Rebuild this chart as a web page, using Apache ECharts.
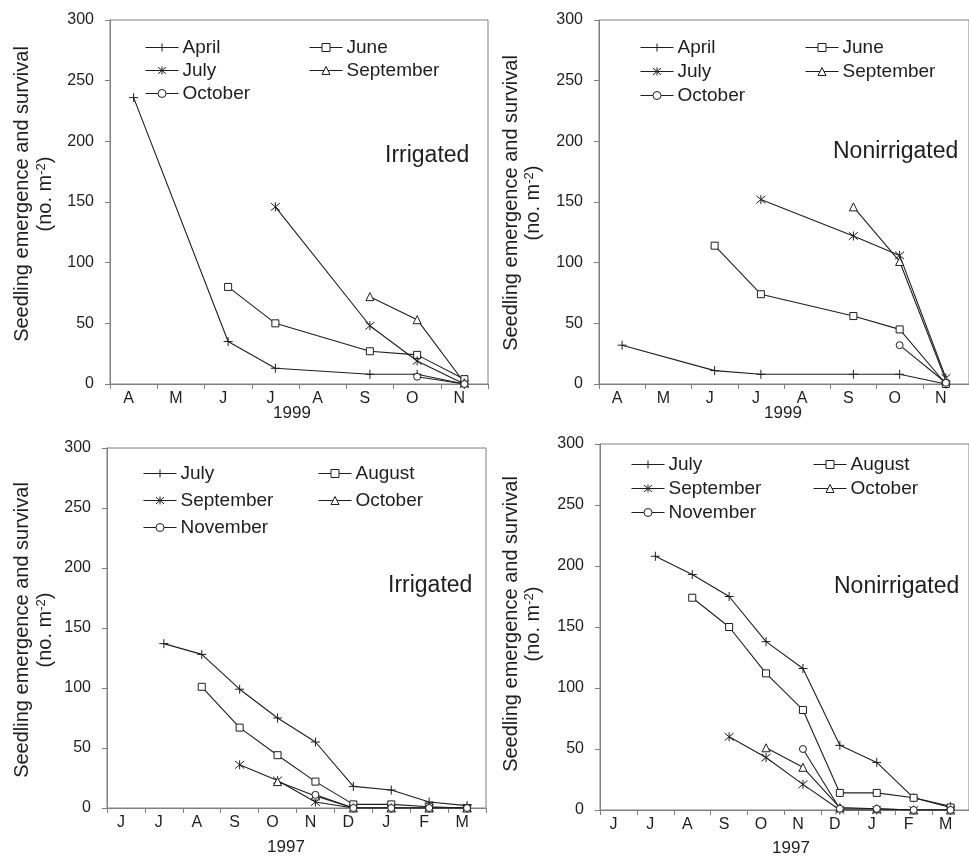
<!DOCTYPE html>
<html>
<head>
<meta charset="utf-8">
<script src="https://cdn.jsdelivr.net/npm/echarts@6/dist/echarts.min.js"></script>
<style>
  html, body { margin: 0; padding: 0; background: #fff; }
  #chart { width: 969px; height: 856px; }
</style>
</head>
<body>
<div id="chart"></div>
<script>
// month categories
const months1999 = ['A', 'M', 'J', 'J', 'A', 'S', 'O', 'N'];
const months1997 = ['J', 'J', 'A', 'S', 'O', 'N', 'D', 'J', 'F', 'M'];
const yTicks = [0, 50, 100, 150, 200, 250, 300];

// 1999 cohorts
const names1999 = ['April', 'June', 'July', 'September', 'October'];
const irr99April = [236, null, 35, 13, null, 8, 8, 0];
const irr99June = [null, null, 80, 50, null, 27, 24, 4];
const irr99July = [null, null, null, 146, null, 48, 19, 0];
const irr99Sept = [null, null, null, null, null, 72, 53, 1];
const irr99Oct = [null, null, null, null, null, null, 6, 0];

const non99April = [32, null, 11, 8, null, 8, 8, 0];
const non99June = [null, null, 114, 74, null, 56, 45, 0];
const non99July = [null, null, null, 152, null, 122, 106, 5];
const non99Sept = [null, null, null, null, null, 146, 101, 3];
const non99Oct = [null, null, null, null, null, null, 32, 1];

// 1997 cohorts
const names1997 = ['July', 'August', 'September', 'October', 'November'];
const irr97July = [null, 137, 128, 99, 75, 55, 18, 15, 5, 2];
const irr97Aug = [null, null, 101, 67, 44, 22, 3, 3, 1, 0];
const irr97Sept = [null, null, null, 36, 23, 5, 0, 0, 0, 0];
const irr97Oct = [null, null, null, null, 22, 10, 0, 0, 0, 0];
const irr97Nov = [null, null, null, null, null, 11, 0, 0, 0, 0];

const non97July = [null, 208, 193, 175, 138, 116, 53, 39, 10, 3];
const non97Aug = [null, null, 174, 150, 112, 82, 14, 14, 10, 2];
const non97Sept = [null, null, null, 60, 43, 21, 0, 0, 0, 0];
const non97Oct = [null, null, null, null, 51, 35, 2, 1, 0, 0];
const non97Nov = [null, null, null, null, null, 50, 1, 1, 0, 0];

const FONT = 'Liberation Sans, Arial, sans-serif';
const INK = '#1e1e1e';
const AXIS = '#808080';

const PLUS = 'path://M0 5L10 5M5 0L5 10';
const STAR = 'path://M0 0L10 10M10 0L0 10M5 -1L5 11';
const symbols = [PLUS, 'rect', STAR, 'triangle', 'circle'];
const symbolSizes = [9, 7, 9, 8, 7];

const grids = [
  { left: 110, top: 20, width: 378, height: 364 },
  { left: 599, top: 20, width: 381, height: 364 },
  { left: 107, top: 448, width: 379, height: 360 },
  { left: 600, top: 444, width: 379, height: 366 }
];

const panelData = [
  [irr99April, irr99June, irr99July, irr99Sept, irr99Oct],
  [non99April, non99June, non99July, non99Sept, non99Oct],
  [irr97July, irr97Aug, irr97Sept, irr97Oct, irr97Nov],
  [non97July, non97Aug, non97Sept, non97Oct, non97Nov]
];

function seriesName(panel, i) {
  return panel < 2 ? names1999[i] : 'b:' + names1997[i];
}

const series = [];
panelData.forEach((list, p) => {
  list.forEach((values, i) => {
    series.push({
      name: seriesName(p, i),
      type: 'line',
      xAxisIndex: p,
      yAxisIndex: p,
      data: values,
      connectNulls: true,
      symbol: symbols[i],
      symbolSize: symbolSizes[i],
      showAllSymbol: true,
      animation: false,
      lineStyle: { color: INK, width: 1.1 },
      itemStyle: { color: '#fff', borderColor: INK, borderWidth: 1 },
      z: 3
    });
  });
});

const xAxes = grids.map((g, p) => ({
  type: 'category',
  gridIndex: p,
  data: p < 2 ? months1999 : months1997,
  boundaryGap: true,
  axisLine: { lineStyle: { color: AXIS, width: 1 } },
  axisTick: { show: true, length: 5, interval: 0, lineStyle: { color: AXIS } },
  axisLabel: { interval: 0, margin: 7, color: INK, fontSize: 16, fontFamily: FONT, padding: [0, 10, 0, 0] },
  splitLine: { show: false }
}));

const yAxes = grids.map((g, p) => ({
  type: 'value',
  gridIndex: p,
  min: yTicks[0],
  max: yTicks[yTicks.length - 1],
  interval: yTicks[1] - yTicks[0],
  axisLine: { show: true, lineStyle: { color: AXIS, width: 1 } },
  axisTick: { show: true, length: 5, lineStyle: { color: AXIS } },
  axisLabel: { margin: 16, color: INK, fontSize: 16, fontFamily: FONT },
  splitLine: { show: false }
}));

// legends: two columns per panel
const legendCols = [
  { left: 145, col2: 309, top: 38, gap: 4 },
  { left: 640, col2: 805, top: 38, gap: 5 },
  { left: 143, col2: 318, top: 464, gap: 8 },
  { left: 631, col2: 813, top: 455, gap: 5 }
];
const legends = [];
legendCols.forEach((c, p) => {
  const n = i => seriesName(p, i);
  const base = {
    orient: 'vertical',
    top: c.top,
    padding: 0,
    itemGap: c.gap,
    itemWidth: 33,
    itemHeight: 10,
    selectedMode: false,
    itemStyle: { color: '#fff', borderColor: INK, borderWidth: 1 },
    lineStyle: { color: INK, width: 1 },
    textStyle: { color: INK, fontSize: 19, fontFamily: FONT, padding: [0, 0, 0, -1] },
    formatter: name => name.replace('b:', '')
  };
  legends.push(Object.assign({}, base, { left: c.left, data: [n(0), n(2), n(4)] }));
  legends.push(Object.assign({}, base, { left: c.col2, data: [n(1), n(3)] }));
});

function label(text, x, y, size, align) {
  return {
    type: 'text', x: x, y: y,
    style: { text: text, fill: INK, fontSize: size, fontFamily: FONT, textAlign: align || 'center', textVerticalAlign: 'middle' }
  };
}
function yTitle(x1, x2, y) {
  return [
    {
      type: 'text', x: x1, y: y, rotation: Math.PI / 2,
      style: { text: 'Seedling emergence and survival', fill: INK, fontSize: 20, fontFamily: FONT, textAlign: 'center', textVerticalAlign: 'middle' }
    },
    {
      type: 'text', x: x2, y: y, rotation: Math.PI / 2,
      style: {
        text: '(no. m{sup|-2})', fill: INK, fontSize: 20, fontFamily: FONT,
        textAlign: 'center', textVerticalAlign: 'middle',
        rich: { sup: { fontSize: 13, fontFamily: FONT, fill: INK, verticalAlign: 'top', padding: [0, 0, 6, 0] } }
      }
    }
  ];
}
const graphics = [].concat(
  yTitle(22, 45, 194), yTitle(511, 533, 203), yTitle(22, 45, 630), yTitle(511, 533, 624),
  [
    label('1999', 292, 413, 17), label('1999', 783, 413, 17),
    label('1997', 286, 847, 17), label('1997', 791, 848, 17),
    label('Irrigated', 385, 156, 23, 'left'),
    label('Nonirrigated', 833, 152, 23, 'left'),
    label('Irrigated', 388, 586, 23, 'left'),
    label('Nonirrigated', 834, 587, 23, 'left')
  ]
);

const chart = echarts.init(document.getElementById('chart'), null, { renderer: 'canvas' });
chart.setOption({
  animation: false,
  backgroundColor: '#fff',
  grid: grids.map(g => Object.assign({ show: true, borderColor: AXIS, borderWidth: 1, containLabel: false }, g)),
  xAxis: xAxes,
  yAxis: yAxes,
  legend: legends,
  graphic: graphics,
  series: series
});
</script>
</body>
</html>
